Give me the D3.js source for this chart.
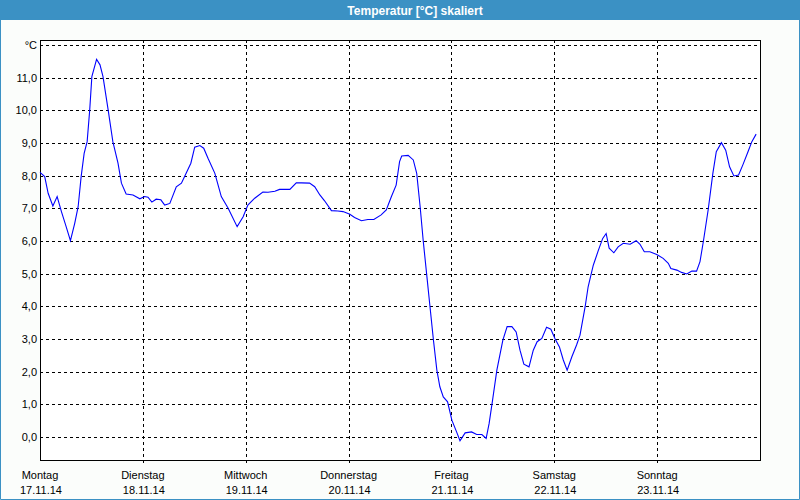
<!DOCTYPE html>
<html>
<head>
<meta charset="utf-8">
<script src="https://cdn.jsdelivr.net/npm/d3@7"></script>
<style>
  html, body { margin: 0; padding: 0; background: #fbfdfb; }
  svg { display: block; }
  text { font-family: "Liberation Sans", Arial, sans-serif; }
</style>
</head>
<body>
<svg id="chart" width="800" height="500"></svg>
<script>
// ---- data ----
const title = "Temperatur [°C] skaliert";
const unitLabel = "°C";
const dayNames = ["Montag", "Dienstag", "Mittwoch", "Donnerstag", "Freitag", "Samstag", "Sonntag"];
const dayDates = ["17.11.14", "18.11.14", "19.11.14", "20.11.14", "21.11.14", "22.11.14", "23.11.14"];
const yTicks = [0, 1, 2, 3, 4, 5, 6, 7, 8, 9, 10, 11, 12];
// hours since Monday 17.11.14 00:00
const hours = [0, 1.1, 1.9, 3.0, 4.0, 5.0, 6.1, 7.1, 8.1, 8.9, 9.6, 10.3, 11.0, 11.6, 12.1, 13.2, 14.0, 14.7, 15.9, 17.0,
  18.2, 19.0, 20.1, 21.7, 23.3, 24.4, 25.2, 26.1, 27.1, 28.2, 29.1, 30.3, 31.8, 33.0, 34.1, 35.2, 36.1, 37.3, 38.2, 39.2,
  40.8, 41.9, 42.3, 43.9, 46.0, 47.4, 48.5, 50.1, 52.0, 53.2, 54.8, 55.9, 58.3, 59.8, 61.0, 62.9, 64.1, 65.3, 66.4, 68.0,
  69.5, 70.7, 72.3, 73.4, 75.0, 76.5, 77.9, 79.6, 80.8, 82.0, 83.1, 83.9, 84.4, 85.9, 87.1, 87.9, 88.7, 89.4, 90.2, 91.0,
  91.8, 92.6, 93.3, 94.1, 95.1, 96.1, 97.2, 98.0, 99.2, 100.7, 101.9, 103.1, 104.1, 104.8, 105.6, 106.6, 108.0, 109.0, 110.1, 111.1,
  112.0, 112.9, 114.1, 115.1, 116.0, 117.1, 118.2, 119.2, 120.2, 121.2, 122.1, 123.0, 124.1, 125.2, 126.0, 127.2, 127.9, 129.1, 130.3, 131.3,
  132.1, 132.8, 133.9, 134.9, 136.1, 137.7, 139.1, 140.0, 141.0, 142.3, 143.9, 145.4, 146.6, 147.2, 148.6, 149.7, 150.9, 152.1, 153.2, 154.0,
  154.8, 155.9, 157.0, 157.8, 159.0, 160.0, 160.9, 161.9, 163.0, 164.0, 165.2, 166.1, 167.1];
const temps = [8.10, 7.97, 7.46, 7.07, 7.36, 6.90, 6.44, 6.01, 6.54, 7.05, 7.97, 8.68, 9.04, 10.01, 11.03, 11.56, 11.39, 11.03, 10.01, 9.04,
  8.38, 7.77, 7.44, 7.41, 7.29, 7.36, 7.34, 7.19, 7.28, 7.26, 7.10, 7.15, 7.66, 7.77, 8.07, 8.38, 8.87, 8.92, 8.84, 8.53,
  8.07, 7.55, 7.36, 7.00, 6.44, 6.74, 7.10, 7.31, 7.50, 7.49, 7.52, 7.58, 7.58, 7.78, 7.78, 7.77, 7.66, 7.41, 7.23, 6.93,
  6.92, 6.90, 6.82, 6.72, 6.62, 6.66, 6.66, 6.80, 6.95, 7.36, 7.71, 8.43, 8.60, 8.62, 8.48, 8.07, 7.05, 6.03, 5.01, 3.99,
  2.97, 2.05, 1.54, 1.23, 1.08, 0.52, 0.16, -0.11, 0.13, 0.16, 0.08, 0.08, -0.04, 0.42, 1.13, 2.05, 2.97, 3.38, 3.38, 3.22,
  2.66, 2.23, 2.15, 2.66, 2.92, 3.02, 3.36, 3.30, 3.00, 2.76, 2.36, 2.05, 2.46, 2.82, 3.12, 3.99, 4.60, 5.26, 5.72, 6.08,
  6.23, 5.78, 5.64, 5.82, 5.93, 5.90, 6.01, 5.90, 5.67, 5.67, 5.59, 5.47, 5.32, 5.16, 5.11, 5.04, 4.99, 5.08, 5.08, 5.37,
  6.00, 6.95, 8.07, 8.73, 9.01, 8.78, 8.27, 7.99, 8.02, 8.33, 8.73, 9.04, 9.27];

// ---- drawing ----
(function () {
const svg = d3.select("#chart");
const W = 800, H = 500;
const pLeft = 40, pRight = 760, pTop = 40, pBottom = 460;
const frameColor = "#3b91c4";

const x = d3.scaleLinear().domain([0, 168]).range([pLeft, pRight]);
const y = d3.scaleLinear().domain([-0.7, 12.15]).range([pBottom, pTop]);
const crisp = v => Math.round(v) + 0.5;

// title bar and window frame
svg.append("rect").attr("x", 0).attr("y", 0).attr("width", W).attr("height", 20).attr("fill", frameColor);
svg.append("text").attr("x", 415).attr("y", 14.5).attr("text-anchor", "middle")
  .attr("fill", "#fff").attr("font-weight", "bold").attr("font-size", "12px").text(title);
svg.append("path").attr("d", `M0.5,20 V499.5 H799.5 V20`).attr("fill", "none")
  .attr("stroke", frameColor).attr("stroke-width", 1);

// plot area
svg.append("rect").attr("x", pLeft).attr("y", pTop).attr("width", pRight - pLeft).attr("height", pBottom - pTop).attr("fill", "#fff");

// horizontal grid
svg.append("g").selectAll("line").data(yTicks).join("line")
  .attr("x1", pLeft).attr("x2", pRight)
  .attr("y1", d => crisp(y(d))).attr("y2", d => crisp(y(d)))
  .attr("stroke", "#000").attr("stroke-dasharray", "3,3").attr("shape-rendering", "crispEdges");

// vertical grid (day boundaries)
const dayIdx = d3.range(dayNames.length);
svg.append("g").selectAll("line").data(dayIdx.slice(1)).join("line")
  .attr("x1", d => crisp(x(d * 24))).attr("x2", d => crisp(x(d * 24)))
  .attr("y1", pTop).attr("y2", pBottom + 3)
  .attr("stroke", "#000").attr("stroke-dasharray", "3,3").attr("shape-rendering", "crispEdges");

// frame
svg.append("rect").attr("x", pLeft + 0.5).attr("y", pTop + 0.5)
  .attr("width", pRight - pLeft).attr("height", pBottom - pTop)
  .attr("fill", "none").attr("stroke", "#000").attr("shape-rendering", "crispEdges");

// y labels
const yAxis = d3.axisLeft(y).tickValues(yTicks).tickSize(0).tickPadding(3)
  .tickFormat(d => d === 12 ? unitLabel : d3.format(".1f")(d).replace(".", ","));
const gy = svg.append("g").attr("transform", `translate(${pLeft},0)`).call(yAxis);
gy.select(".domain").remove();
gy.selectAll("text").attr("font-family", "Liberation Sans, Arial, sans-serif").attr("font-size", "11px").attr("fill", "#000");

// x labels
const gx = svg.append("g");
gx.selectAll("text.day").data(dayIdx).join("text").attr("class", "day")
  .attr("x", d => x(d * 24)).attr("y", 479).attr("text-anchor", "middle")
  .attr("font-size", "11px").attr("fill", "#000").text(d => dayNames[d]);
gx.selectAll("text.date").data(dayIdx).join("text").attr("class", "date")
  .attr("x", d => x(d * 24) + 1).attr("y", 494).attr("text-anchor", "middle")
  .attr("font-size", "11px").attr("fill", "#000").text(d => dayDates[d]);

// temperature line
const pts = hours.map((h, i) => [h, temps[i]]);
svg.append("path").datum(pts)
  .attr("d", d3.line().x(d => x(d[0])).y(d => y(d[1])))
  .attr("fill", "none").attr("stroke", "#0000ff").attr("stroke-width", 1.1);
})();
</script>
</body>
</html>
